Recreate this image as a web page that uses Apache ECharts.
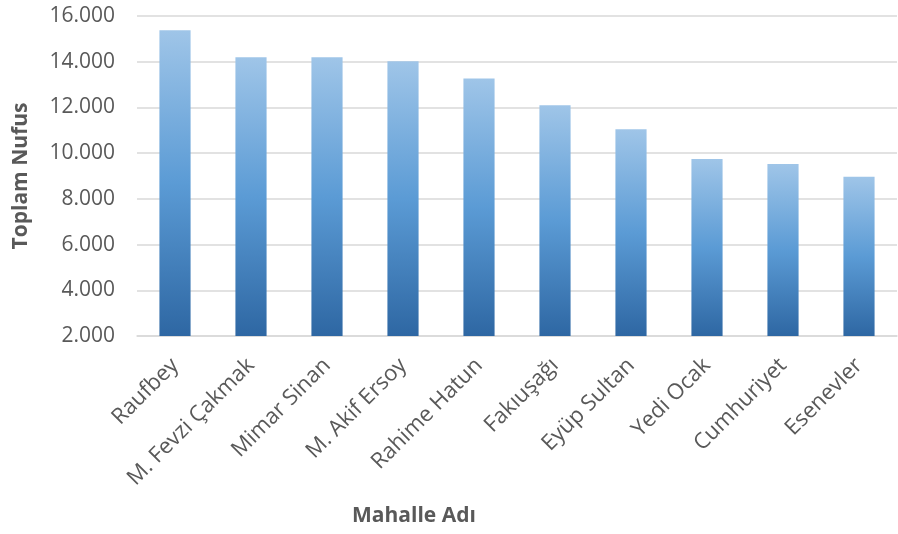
<!DOCTYPE html>
<html>
<head>
<meta charset="utf-8">
<script src="https://cdn.jsdelivr.net/npm/echarts@6/dist/echarts.min.js"></script>
<style>
  html, body { margin: 0; padding: 0; background: #fff; }
  #chart { width: 898px; height: 534px; }
</style>
</head>
<body>
<div id="chart"></div>
<script>
// Neighbourhood names (x axis categories)
const mahalleler = ['Raufbey', 'M. Fevzi Çakmak', 'Mimar Sinan', 'M. Akif Ersoy', 'Rahime Hatun',
  'Fakıuşağı', 'Eyüp Sultan', 'Yedi Ocak', 'Cumhuriyet', 'Esenevler'];
// Total population per neighbourhood
const toplamNufus = [15380, 14190, 14190, 14020, 13270, 12100, 11040, 9740, 9520, 8970];
// Y axis range
const yMin = 2000;
const yMax = 16000;
const yStep = 2000;

const textColor = '#595959';
const font = '"Open Sans", "Liberation Sans", sans-serif';

// Thousands separated with a dot, e.g. 16.000
const formatThousands = v => String(v).replace(/\B(?=(\d{3})+(?!\d))/g, '.');

const chart = echarts.init(document.getElementById('chart'));
chart.setOption({
  animation: false,
  grid: { left: 137, right: 1, top: 16, bottom: 198, outerBoundsMode: 'none', containLabel: false },
  xAxis: {
    type: 'category',
    data: mahalleler,
    axisLine: { lineStyle: { color: '#d9d9d9', width: 1.5 } },
    axisTick: { show: false },
    axisLabel: {
      rotate: 45,
      margin: 26,
      color: textColor,
      fontSize: 22,
      fontFamily: font
    }
  },
  yAxis: {
    type: 'value',
    min: yMin,
    max: yMax,
    interval: yStep,
    name: 'Toplam Nufus',
    nameLocation: 'middle',
    nameGap: 105,
    nameTextStyle: { color: textColor, fontSize: 21, fontWeight: 'bold', fontFamily: font },
    axisLine: { show: false },
    axisTick: { show: false },
    splitLine: { lineStyle: { color: '#d9d9d9', width: 1.5 } },
    axisLabel: {
      margin: 22,
      color: textColor,
      fontSize: 21,
      fontFamily: font,
      formatter: formatThousands
    }
  },
  graphic: [{
    type: 'text',
    x: 352,
    y: 516,
    style: {
      text: 'Mahalle Adı',
      fill: textColor,
      font: 'bold 21px ' + font,
      verticalAlign: 'middle'
    }
  }],
  series: [{
    type: 'bar',
    data: toplamNufus,
    barWidth: '41%',
    itemStyle: {
      color: new echarts.graphic.LinearGradient(0, 0, 0, 1, [
        { offset: 0, color: '#9fc5e8' },
        { offset: 0.5, color: '#5b9bd5' },
        { offset: 1, color: '#2e67a3' }
      ])
    }
  }]
});
</script>
</body>
</html>
